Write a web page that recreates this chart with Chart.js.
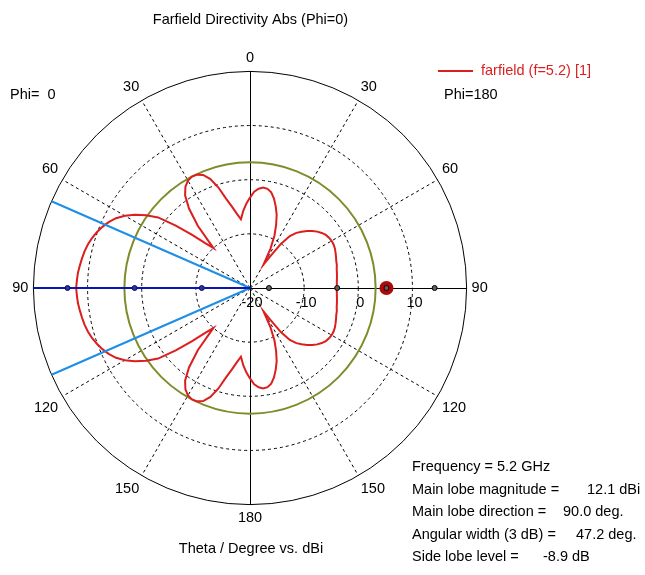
<!DOCTYPE html>
<html><head><meta charset="utf-8">
<script src="https://cdn.jsdelivr.net/npm/chart.js@4/dist/chart.umd.min.js"></script>
<style>html,body{margin:0;padding:0;background:#fff}#wrap{width:645px;height:575px;position:relative}</style>
</head><body><div id="wrap"><canvas id="c" width="645" height="575"></canvas></div>
<script>
// ---------- data ----------
const angleStep = 2.5;                 // theta sampling (deg)
const thetaTickLabels = ['0','30','60','90','120','150','180'];
const radialMin = -20, radialMax = 20, radialStep = 10;
const radialTickLabels = ['-20','-10','0','10'];
// Directivity (dBi), phi = 180 half (right), theta 0..180 step 2.5
const dirPhi180 = [
 -3.3,-2.2,-1.6,-1.3,-1.4,-1.9,-2.9,-4.2,-5.6,-7.4,-9.3,-11.8,-15.0,-13.2,-10.0,-7.9,-6.7,-5.9,-5.1,-4.4,
 -3.8,-3.3,-2.9,-2.7,-2.6,-2.6,-2.7,-2.9,-3.1,-3.3,-3.4,-3.6,-3.7,-3.8,-3.9,-3.95,-3.95,
 -3.95,-3.9,-3.8,-3.7,-3.6,-3.4,-3.3,-3.1,-2.9,-2.7,-2.6,-2.6,-2.7,-2.9,-3.3,-3.8,-4.4,-5.1,-5.9,-6.7,
 -7.9,-10.0,-13.2,-15.0,-11.8,-9.3,-7.4,-5.6,-4.2,-2.9,-1.9,-1.4,-1.3,-1.6,-2.2,-3.3
];
// Directivity (dBi), phi = 0 half (left), theta 0..180 step 2.5
const dirPhi0 = [
 -3.3,-4.4,-5.7,-7.2,-6.1,-4.6,-2.9,-0.5,1.4,2.6,3.1,3.2,2.9,2.2,0.9,-1.5,-5.0,-10.0,-8.3,-5.4,
 -2.1,1.4,3.4,5.2,6.7,7.9,8.8,9.5,10.1,10.6,11.0,11.3,11.5,11.7,11.9,12.0,12.1,
 12.0,11.9,11.7,11.5,11.3,11.0,10.6,10.1,9.5,8.8,7.9,6.7,5.2,3.4,1.4,-2.1,-5.4,-8.3,-10.0,-5.0,
 -1.5,0.9,2.2,2.9,3.2,3.1,2.6,1.4,-0.5,-2.9,-4.6,-6.1,-7.2,-5.7,-4.4,-3.3
];
const sideLobeCircle = 3.2;            // dBi (green circle)
const mainLobeDirection = 90;          // deg, phi=0 side
const angularWidth = 47.2;             // deg
const markersPhi0 = [-11.1, 1.3, 13.7];
const markersPhi180 = [-16.5, -3.9, 14.1];
const bigMarkerPhi180 = 5.2;
const seriesName = 'farfield (f=5.2) [1]';
const titleText = 'Farfield Directivity Abs (Phi=0)';
const axisTitle = 'Theta / Degree vs. dBi';
const infoLabels = ['Frequency = 5.2 GHz','Main lobe magnitude =','Main lobe direction =','Angular width (3 dB) =','Side lobe level ='];
const infoValues = ['', '12.1 dBi', '90.0 deg.', '47.2 deg.', '-8.9 dB'];

// ---------- build ----------
const half = dirPhi180.length - 1;       // 72
const count = half * 2;                  // 144
const labels = [], values = [];
for (let i = 0; i < count; i++) {
  if (i <= half) { labels.push(String(i * angleStep)); values.push(dirPhi180[i]); }
  else { labels.push(String((count - i) * angleStep)); values.push(dirPhi0[count - i]); }
}
const FONT = 'Liberation Sans';
const FS = 14.5;
const RED = '#dc1e1e';

const extras = {
  id: 'extras',
  beforeDatasetsDraw(chart) {
    const s = chart.scales.r, ctx = chart.ctx;
    const R = s.getDistanceFromCenterForValue(radialMax);
    ctx.save();
    // solid main axes (crisp)
    ctx.strokeStyle = '#000'; ctx.lineWidth = 1;
    ctx.beginPath();
    ctx.moveTo(s.xCenter + 0.5, s.yCenter - R); ctx.lineTo(s.xCenter + 0.5, s.yCenter + R);
    ctx.moveTo(s.xCenter - R, s.yCenter + 0.5); ctx.lineTo(s.xCenter + R, s.yCenter + 0.5);
    ctx.stroke();
    ctx.strokeStyle = '#7f8c2a'; ctx.lineWidth = 2;
    ctx.beginPath();
    ctx.arc(s.xCenter, s.yCenter, s.getDistanceFromCenterForValue(sideLobeCircle), 0, Math.PI * 2);
    ctx.stroke();
    ctx.restore();
  },
  afterDatasetsDraw(chart) {
    const s = chart.scales.r, ctx = chart.ctx;
    const R = s.getDistanceFromCenterForValue(radialMax);
    const idxLeft = th => (360 - th) / angleStep;
    const idxRight = th => th / angleStep;
    ctx.save();
    // beam width lines
    ctx.lineWidth = 2;
    ctx.strokeStyle = '#1e8ee6';
    [mainLobeDirection - angularWidth / 2, mainLobeDirection + angularWidth / 2].forEach(th => {
      const p = s.getPointPosition(idxLeft(th), R);
      ctx.beginPath(); ctx.moveTo(s.xCenter, s.yCenter); ctx.lineTo(p.x, p.y); ctx.stroke();
    });
    ctx.strokeStyle = '#0a14b4';
    const pm = s.getPointPosition(idxLeft(mainLobeDirection), R);
    ctx.beginPath(); ctx.moveTo(s.xCenter, s.yCenter); ctx.lineTo(pm.x, pm.y); ctx.stroke();
    // markers
    ctx.lineWidth = 1;
    markersPhi0.forEach(v => {
      const p = s.getPointPositionForValue(idxLeft(mainLobeDirection), v);
      ctx.beginPath(); ctx.arc(p.x, p.y, 2.5, 0, Math.PI * 2);
      ctx.fillStyle = '#3030a0'; ctx.fill(); ctx.strokeStyle = '#101060'; ctx.stroke();
    });
    const pb = s.getPointPositionForValue(idxRight(90), bigMarkerPhi180);
    ctx.beginPath(); ctx.arc(pb.x, pb.y, 7, 0, Math.PI * 2); ctx.fillStyle = '#b00808'; ctx.fill();
    markersPhi180.concat([bigMarkerPhi180]).forEach(v => {
      const p = s.getPointPositionForValue(idxRight(90), v);
      ctx.beginPath(); ctx.arc(p.x, p.y, 2.5, 0, Math.PI * 2);
      ctx.fillStyle = '#606060'; ctx.fill(); ctx.strokeStyle = '#000'; ctx.stroke();
    });
    // radial tick labels
    ctx.fillStyle = '#000';
    ctx.font = FS + 'px "' + FONT + '"';
    ctx.textAlign = 'center'; ctx.textBaseline = 'middle';
    radialTickLabels.forEach((t, i) => {
      const v = radialMin + i * radialStep;
      ctx.fillText(t, s.xCenter + s.getDistanceFromCenterForValue(v) + 2, s.yCenter + 15);
    });
    // texts
    ctx.fillText(titleText, 250.5, 20);
    ctx.fillText(axisTitle, 251, 549);
    ctx.textAlign = 'left';
    ctx.fillText('Phi=  0', 10, 95);
    ctx.fillText('Phi=180', 444, 95);
    ctx.strokeStyle = RED; ctx.lineWidth = 2;
    ctx.beginPath(); ctx.moveTo(438, 71); ctx.lineTo(473, 71); ctx.stroke();
    ctx.fillStyle = RED;
    ctx.fillText(seriesName, 481, 71);
    ctx.fillStyle = '#000';
    const ys = [467, 490, 512, 535, 557];
    const vx = [0, 587, 563, 576, 543];
    infoLabels.forEach((t, i) => {
      ctx.fillText(t, 412, ys[i]);
      if (infoValues[i]) ctx.fillText(infoValues[i], vx[i], ys[i]);
    });
    ctx.restore();
  }
};

new Chart(document.getElementById('c'), {
  type: 'radar',
  data: {
    labels: labels,
    datasets: [{
      label: seriesName,
      data: values,
      borderColor: RED,
      borderWidth: 2,
      pointRadius: 0,
      fill: false,
      tension: 0
    }]
  },
  options: {
    responsive: false,
    animation: false,
    layout: { padding: { left: 2, right: 147, top: 49, bottom: 48 } },
    plugins: { legend: { display: false }, tooltip: { enabled: false }, title: { display: false } },
    scales: {
      r: {
        min: radialMin, max: radialMax,
        startAngle: 0,
        ticks: { display: false, stepSize: radialStep },
        grid: { circular: true, color: '#000', lineWidth: 1 },
        border: { dash: (c) => (c.tick && c.tick.value === radialMax) ? [] : [3, 3] },
        angleLines: {
          display: true,
          color: '#000',
          lineWidth: (c) => (c.index % 12 === 0 && c.index % 36 !== 0 ? 1 : 0),
          borderDash: [3, 3]
        },
        pointLabels: {
          display: true,
          padding: 5,
          color: '#000',
          font: { family: FONT, size: FS },
          callback: (label, i) => (i % 12 === 0 ? label : '')
        }
      }
    }
  },
  plugins: [extras]
});
</script>
</body></html>
